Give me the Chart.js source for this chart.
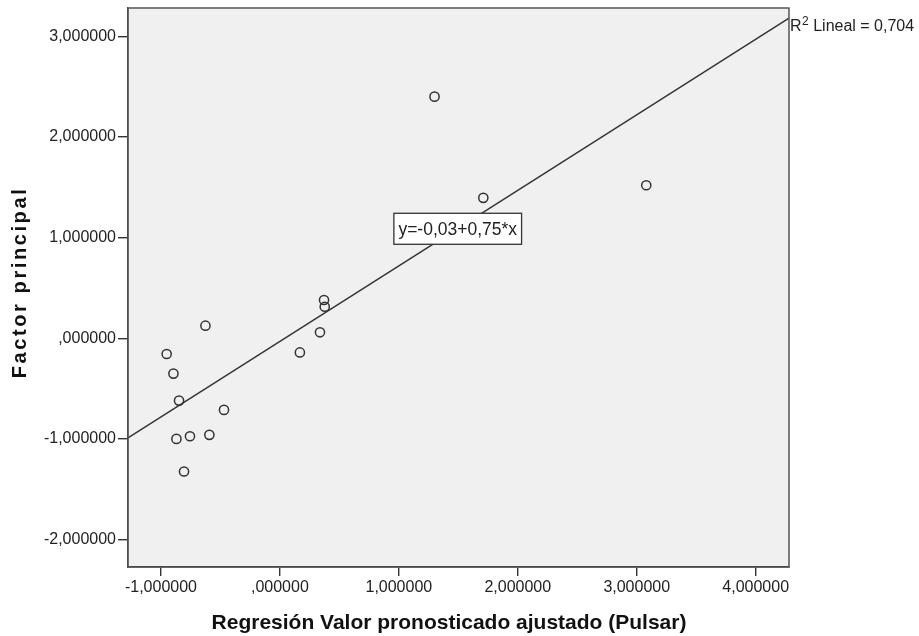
<!DOCTYPE html>
<html>
<head>
<meta charset="utf-8">
<script src="https://cdn.jsdelivr.net/npm/chart.js@4.4.1/dist/chart.umd.min.js"></script>
<style>
  html, body { margin: 0; padding: 0; background: #ffffff; }
  #wrap { width: 919px; height: 636px; position: relative; }
</style>
</head>
<body>
<div id="wrap"><canvas id="c" width="919" height="636"></canvas></div>
<script>
// ---- data ----
const xValues = [1.30, 1.71, 3.08, 0.371, 0.377, 0.337, 0.168, -0.626, -0.952, -0.895, -0.848, -0.47, -0.87, -0.756, -0.593, -0.806];
const yValues = [2.40, 1.395, 1.52, 0.381, 0.314, 0.06, -0.14, 0.126, -0.155, -0.35, -0.618, -0.71, -0.998, -0.972, -0.958, -1.322];
const fitLineX = [-1.277, 4.28];
const fitLineY = [-0.988, 3.18];
const xTickValues = [-1, 0, 1, 2, 3, 4];
const yTickValues = [-2, -1, 0, 1, 2, 3];
const xRange = [-1.277, 4.28];
const yRange = [-2.27, 3.28];
const equationText = 'y=-0,03+0,75*x';
const equationAt = [1.495, 1.088];
const r2Text = ' Lineal = 0,704';
const xTitle = 'Regresión Valor pronosticado ajustado (Pulsar)';
const yTitle = 'Factor principal';

function fmt(v) {
  if (Math.abs(v) < 1e-9) return ',000000';
  return v.toFixed(6).replace('.', ',');
}

const FONT = '"Liberation Sans", Arial, sans-serif';
const INK = '#333333';

const plotBg = {
  id: 'plotBg',
  beforeDraw(chart) {
    const {ctx, chartArea: a} = chart;
    ctx.save();
    ctx.fillStyle = '#f0f0f0';
    ctx.fillRect(a.left, a.top, a.right - a.left, a.bottom - a.top);
    ctx.restore();
  },
  afterDatasetsDraw(chart) {
    const {ctx, chartArea: a, scales} = chart;
    ctx.save();
    ctx.strokeStyle = '#555555';
    ctx.lineWidth = 1.5;
    ctx.strokeRect(a.left, a.top, a.right - a.left, a.bottom - a.top);
    // equation box
    const px = scales.x.getPixelForValue(equationAt[0]);
    const py = scales.y.getPixelForValue(equationAt[1]);
    ctx.font = '17.5px ' + FONT;
    const w = ctx.measureText(equationText).width + 9;
    const h = 31;
    ctx.fillStyle = '#ffffff';
    ctx.fillRect(px - w / 2, py - h / 2, w, h);
    ctx.strokeStyle = '#333333';
    ctx.lineWidth = 1.3;
    ctx.strokeRect(px - w / 2, py - h / 2, w, h);
    ctx.fillStyle = '#222222';
    ctx.textAlign = 'center';
    ctx.textBaseline = 'middle';
    ctx.fillText(equationText, px, py + 1);
    // R2 label at end of fit line
    const ex = scales.x.getPixelForValue(fitLineX[1]);
    const ey = scales.y.getPixelForValue(fitLineY[1]);
    ctx.textAlign = 'left';
    ctx.textBaseline = 'alphabetic';
    ctx.font = '16px ' + FONT;
    let x = ex + 1;
    const base = ey + 13;
    ctx.fillText('R', x, base);
    x += ctx.measureText('R').width;
    ctx.font = '12px ' + FONT;
    ctx.fillText('2', x + 0.5, base - 6);
    x += ctx.measureText('2').width + 0.5;
    ctx.font = '16px ' + FONT;
    ctx.fillText(r2Text, x, base);
    // y axis title (letter-spaced as in the reference)
    ctx.save();
    ctx.translate(20, (a.top + a.bottom) / 2 - 5);
    ctx.rotate(-Math.PI / 2);
    ctx.font = 'bold 20px ' + FONT;
    ctx.letterSpacing = '2.6px';
    ctx.fillStyle = '#111111';
    ctx.textAlign = 'center';
    ctx.textBaseline = 'middle';
    ctx.fillText(yTitle, 0, 0);
    ctx.restore();
    // x axis title
    ctx.font = 'bold 21px ' + FONT;
    ctx.fillStyle = '#111111';
    ctx.textAlign = 'center';
    ctx.textBaseline = 'middle';
    ctx.fillText(xTitle, 449, 623);
    ctx.restore();
  }
};

const points = xValues.map((x, i) => ({x: x, y: yValues[i]}));
const fit = fitLineX.map((x, i) => ({x: x, y: fitLineY[i]}));

new Chart(document.getElementById('c'), {
  type: 'scatter',
  data: {
    datasets: [
      {
        type: 'line',
        data: fit,
        borderColor: INK,
        borderWidth: 1.4,
        pointRadius: 0,
        fill: false,
        order: 2
      },
      {
        data: points,
        pointStyle: 'circle',
        pointRadius: 4.6,
        pointBorderWidth: 1.5,
        borderColor: INK,
        backgroundColor: 'rgba(0,0,0,0)',
        order: 1
      }
    ]
  },
  options: {
    responsive: false,
    animation: false,
    devicePixelRatio: 1,
    layout: { padding: { left: 0, right: 130, top: 8, bottom: 0 } },
    plugins: { legend: { display: false }, tooltip: { enabled: false } },
    scales: {
      x: {
        type: 'linear',
        min: xRange[0],
        max: xRange[1],
        afterBuildTicks(s) { s.ticks = xTickValues.map(v => ({value: v})); },
        afterFit(s) { s.height = 69; s.paddingLeft = 0; s.paddingRight = 0; },
        ticks: {
          callback: v => fmt(v),
          color: '#222222',
          font: { family: FONT, size: 16 },
          padding: 2,
          maxRotation: 0,
          autoSkip: false
        },
        grid: { drawOnChartArea: false, drawTicks: true, tickLength: 9, color: INK, lineWidth: 1.4 },
        border: { display: true, color: INK, width: 1.4 },
        title: { display: false }
      },
      y: {
        type: 'linear',
        min: yRange[0],
        max: yRange[1],
        afterBuildTicks(s) { s.ticks = yTickValues.map(v => ({value: v})); },
        afterFit(s) { s.width = 128; s.paddingTop = 0; s.paddingBottom = 0; },
        ticks: {
          callback: v => fmt(v),
          color: '#222222',
          font: { family: FONT, size: 16 },
          padding: 2,
          autoSkip: false
        },
        grid: { drawOnChartArea: false, drawTicks: true, tickLength: 10, color: INK, lineWidth: 1.4 },
        border: { display: true, color: INK, width: 1.4 },
        title: { display: false }
      }
    }
  },
  plugins: [plotBg]
});
</script>
</body>
</html>
